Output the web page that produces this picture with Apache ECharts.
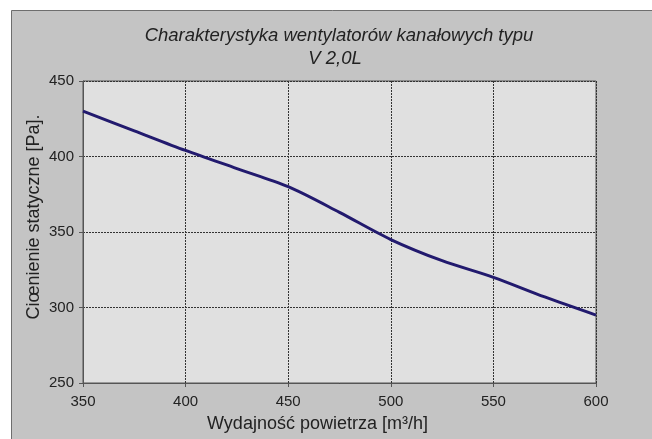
<!DOCTYPE html>
<html>
<head>
    <meta charset="utf-8">
    <title>Charakterystyka V 2,0L</title>
    <script src="https://cdn.jsdelivr.net/npm/echarts@6/dist/echarts.min.js"></script>
    <style>
        html, body { margin: 0; padding: 0; background: #fff; }
    </style>
</head>
<body>
    <div id="main" style="width: 652px;height:439px;"></div>
    <script type="text/javascript">
        // dane
        var flow = [350, 375, 400, 425, 450, 475, 500, 525, 550, 575, 600];
        var pressure = [430, 417, 404, 392, 380, 363, 345, 331, 320, 307, 295];
        var xTicks = [350, 400, 450, 500, 550, 600];
        var yTicks = [250, 300, 350, 400, 450];

        var points = [];
        for (var i = 0; i < flow.length; i++) {
            points.push([flow[i], pressure[i]]);
        }

        var myChart = echarts.init(document.getElementById('main'));

        var font = '"Liberation Sans", Arial, sans-serif';
        var gridLine = { show: true, lineStyle: { color: '#333', type: [2, 1], width: 1 } };

        var option = {
            animation: false,
            backgroundColor: '#fff',
            graphic: [{
                type: 'rect',
                z: -10,
                shape: { x: 11.5, y: 10.5, width: 700, height: 500 },
                style: { fill: '#c4c4c4', stroke: '#6e6e6e', lineWidth: 1 }
            }],
            title: [{
                text: 'Charakterystyka wentylatorów kanałowych typu',
                left: 334, top: 21, textAlign: 'center',
                textStyle: { fontFamily: font, fontStyle: 'italic', fontWeight: 'normal', fontSize: 18.5, color: '#222' }
            }, {
                text: 'V 2,0L',
                left: 330, top: 44, textAlign: 'center',
                textStyle: { fontFamily: font, fontStyle: 'italic', fontWeight: 'normal', fontSize: 18.5, color: '#222' }
            }],
            grid: {
                left: 83, top: 81, right: 56, bottom: 56,
                show: true, backgroundColor: '#e0e0e0', borderColor: '#555', borderWidth: 1
            },
            xAxis: {
                type: 'value',
                min: xTicks[0], max: xTicks[xTicks.length - 1], interval: 50,
                name: 'Wydajność powietrza [m³/h]',
                nameLocation: 'middle', nameGap: 32, nameMoveOverlap: false,
                nameTextStyle: { fontFamily: font, fontSize: 18, color: '#222', padding: [0, 44, 0, 0] },
                axisLine: { lineStyle: { color: '#555' } },
                axisTick: { show: true, length: 4, lineStyle: { color: '#555' } },
                axisLabel: { fontFamily: font, fontSize: 15, color: '#222', margin: 11 },
                splitLine: gridLine
            },
            yAxis: {
                type: 'value',
                min: yTicks[0], max: yTicks[yTicks.length - 1], interval: 50,
                name: 'Ciœnienie statyczne [Pa].',
                nameLocation: 'middle', nameGap: 40, nameMoveOverlap: false,
                nameTextStyle: { fontFamily: font, fontSize: 18, color: '#222', padding: [0, 0, 0, 30] },
                axisLine: { show: true, lineStyle: { color: '#555' } },
                axisTick: { show: true, length: 4, lineStyle: { color: '#555' } },
                axisLabel: { fontFamily: font, fontSize: 15, color: '#222', margin: 9 },
                splitLine: gridLine
            },
            series: [{
                type: 'line',
                data: points,
                smooth: 0.3,
                symbol: 'none',
                lineStyle: { color: '#221a6e', width: 3 }
            }]
        };

        myChart.setOption(option);
    </script>
</body>
</html>
